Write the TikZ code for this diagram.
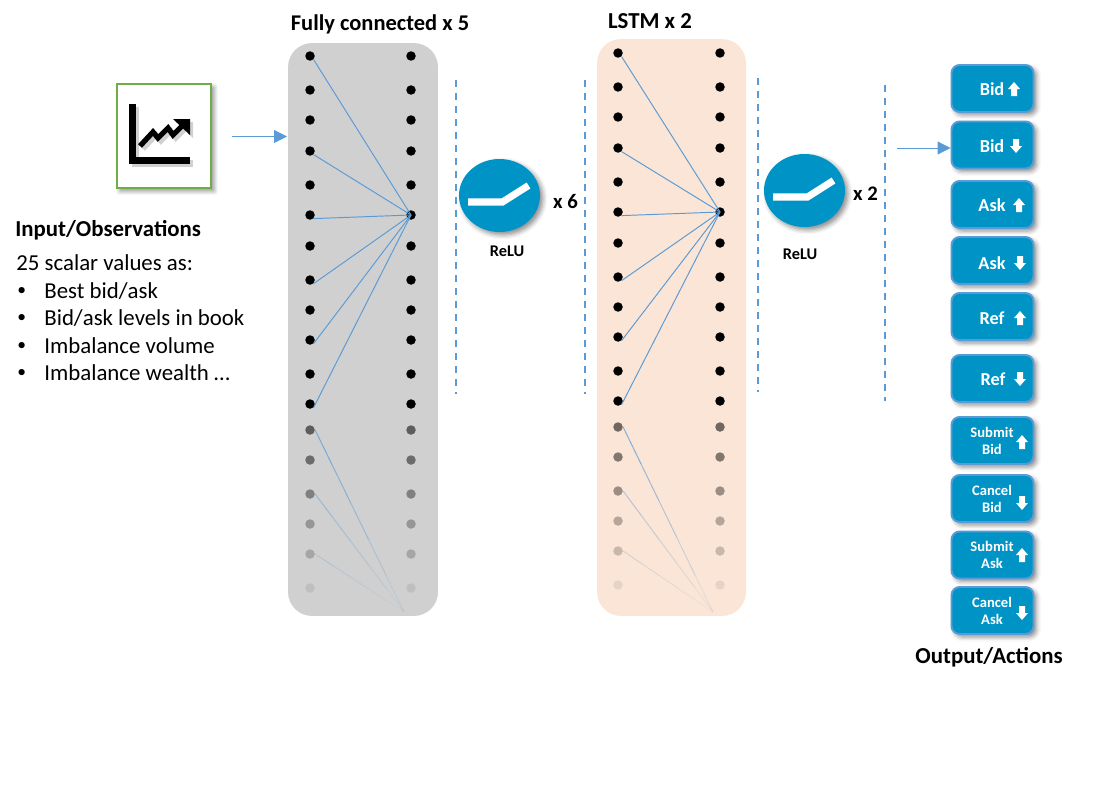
\documentclass[tikz,border=0pt]{standalone}
\usepackage{fontspec}
\setmainfont{Carlito}
\usetikzlibrary{arrows.meta, positioning, calc, shapes.geometric, shadows.blur}
\definecolor{linkblue}{HTML}{5B9BD5}
\definecolor{btnblue}{HTML}{0094C6}
\definecolor{fcgray}{HTML}{D0D0D0}
\definecolor{lstmpeach}{HTML}{FBE5D6}
\definecolor{iconframe}{HTML}{70AD47}
\tikzset{
  softshadow/.style={blur shadow={shadow xshift=0.06cm, shadow yshift=-0.06cm, shadow blur radius=0.09cm, shadow opacity=45}},
  netpanel/.style={rounded corners=0.48cm, minimum width=3cm, inner sep=0pt},
  netdot/.style={circle, fill=black, inner sep=0pt, minimum size=0.19cm},
  netlink/.style={linkblue, line width=0.55pt},
  divider/.style={linkblue, line width=1.1pt, dash pattern=on 4.2pt off 3.2pt},
  flowarrow/.style={linkblue, line width=0.55pt, -{Triangle[length=0.26cm, width=0.26cm]}},
  actionbtn/.style={draw=linkblue, line width=1.1pt, fill=btnblue, rounded corners=0.16cm,
    minimum width=1.64cm, minimum height=0.94cm, inner sep=0pt, softshadow},
  btntext/.style={text=white, font=\fontsize{10.4}{12}\selectfont\bfseries, align=center, inner sep=0pt},
  smalltext/.style={text=white, font=\fontsize{8.3}{9.6}\selectfont\bfseries, align=center, inner sep=0pt},
  uparrow/.pic={\fill[white] (0,-7) -- (6,0) -- (3,0) -- (3,7) -- (-3,7) -- (-3,0) -- (-6,0) -- cycle;},
  downarrow/.pic={\fill[white] (0,7) -- (6,0) -- (3,0) -- (3,-7) -- (-3,-7) -- (-3,0) -- (-6,0) -- cycle;},
  relucircle/.style={ellipse, fill=btnblue, minimum width=1.62cm, minimum height=1.46cm, inner sep=0pt, softshadow},
  title/.style={font=\fontsize{13}{15}\selectfont\bfseries, inner sep=0pt},
  bodytext/.style={font=\fontsize{13}{15}\selectfont, inner sep=0pt, anchor=west},
  tagtext/.style={font=\fontsize{9.3}{11}\selectfont\bfseries, inner sep=0pt}
}
\begin{document}
\begin{tikzpicture}[x=0.02cm, y=-0.02cm]
\useasboundingbox (0,0) rectangle (1097,784);

% panels
\node[netpanel, fill=fcgray, minimum height=11.46cm] (fcpanel) at (363,329.5) {};
\node[netpanel, fill=lstmpeach, minimum height=11.54cm, minimum width=2.98cm] (lstmpanel) at (671.5,327.5) {};
\node[title] (fctitle) at (380,24) {\fontsize{12.8}{15}\selectfont Fully connected x 5};
\node[title] (lstmtitle) at (650,21) {LSTM x 2};

% dots of both layers
\foreach \net/\xl/\xr/\dy in {fc/310/411/0, lstm/618/720/-3} {
  \foreach \i/\y/\op in {1/56/1,2/90/1,3/120/1,4/151/1,5/185/1,6/215/1,7/246/1,8/280/1,9/310/1,
      10/340/1,11/374/1,12/404/1,13/430/.55,14/460/.48,15/494/.38,16/524/.28,17/554/.2,18/588/.08} {
    \node[netdot, opacity=\op] (\net l\i) at (\xl,\y+\dy) {};
    \node[netdot, opacity=\op] (\net r\i) at (\xr,\y+\dy) {};
  }
  \foreach \i in {1,4,6,8,10,12}
    \draw[netlink] (\net l\i.south east) -- (\net r6.center);
}
% links that fade out towards the foot of the panel
\coordinate (fcfade) at (404,612);
\coordinate (lstmfade) at (713,612);
\foreach \net in {fc,lstm}
  \foreach \i/\base in {13/.75,15/.45,17/.25}
    \foreach \a/\b/\op in {0/.2/1,.2/.4/.8,.4/.6/.6,.6/.8/.4,.8/1/.2}
      \draw[netlink, opacity=\base*\op] ($(\net l\i.east)!\a!(\net fade)$) -- ($(\net l\i.east)!\b!(\net fade)$);

% dividers
\coordinate (d1a) at (456,80); \coordinate (d1b) at (456,394);
\coordinate (d2a) at (585,80); \coordinate (d2b) at (585,394);
\coordinate (d3a) at (758,78); \coordinate (d3b) at (758,392);
\coordinate (d4a) at (885,85); \coordinate (d4b) at (885,401);
\foreach \i in {1,2,3,4}
  \draw[divider] (d\i a) -- (d\i b);

% input icon
\node[draw=iconframe, line width=1.1pt, fill=white, minimum width=1.88cm, minimum height=2.08cm,
      inner sep=0pt, softshadow] (inputbox) at (164,136) {};
\draw[line width=3.9pt, black!18, xshift=0.06cm, yshift=-0.06cm] (132.5,104) -- (132.5,160.5) -- (190,160.5);
\draw[line width=3.9pt, black] (132.5,104) -- (132.5,160.5) -- (190,160.5);
\draw[line width=3pt, black!18, xshift=0.06cm, yshift=-0.06cm] (140,146) -- (153,132) -- (158,138) -- (168,128) -- (173,135) -- (185,123);
\fill[black!18, xshift=0.06cm, yshift=-0.06cm] (173,119) -- (190,119) -- (190,135) -- cycle;
\draw[line width=3pt, black] (140,146) -- (153,132) -- (158,138) -- (168,128) -- (173,135) -- (185,123);
\fill[black] (173,119) -- (190,119) -- (190,135) -- cycle;

\coordinate (inputtail) at (232,136.5);
\coordinate (inputhead) at (287,136.5);
\draw[flowarrow] (inputtail) -- (inputhead);

% input text
\node[title, anchor=west] (inputtitle) at (15,230) {Input/Observations};
\node[bodytext] (inputbody) at (16,263) {25 scalar values as:};
\foreach \i/\y/\txt in {1/291/Best bid\slash ask, 2/318/Bid\slash ask levels in book, 3/346/Imbalance volume, 4/373/Imbalance wealth \dots} {
  \node[bodytext, font=\fontsize{10}{12}\selectfont] (bullet\i) at (17,\y) {•};
  \node[bodytext] (item\i) at (44,\y) {\txt};
}

% activations
\foreach \n/\cx/\cy/\tx/\ty/\lx/\ly/\rep in {1/499.5/195.5/565.5/201/507/251/x 6, 2/804.5/190.5/865.5/194/800/254/x 2} {
  \node[relucircle] (relu\n) at (\cx,\cy) {};
  \draw[white, line width=4pt] ($(relu\n)+(-31.5,6.5)$) -- ($(relu\n)+(3,6.5)$) -- ($(relu\n)+(29,-10)$);
  \node[title, font=\fontsize{11.8}{14}\selectfont\bfseries] (rep\n) at (\tx,\ty) {\rep};
  \node[tagtext] (relulabel\n) at (\lx,\ly) {ReLU};
}

% output buttons
\foreach \nm/\yc/\txt/\tx/\ax/\dir/\ay in {
    bidup/88.5/Bid/992/1014/uparrow/89,
    biddown/145/Bid/992/1016/downarrow/146,
    askup/204.5/Ask/992/1019/uparrow/205,
    askdown/260.5/Ask/992/1020/downarrow/263,
    refup/316.5/Ref/992/1020/uparrow/318,
    refdown/378.5/Ref/993/1020/downarrow/379} {
  \node[actionbtn] (\nm) at (992.5,\yc) {};
  \node[btntext] (\nm text) at (\tx,\ay) {\txt};
  \pic at (\ax,\ay) {\dir};
}
\foreach \nm/\yc/\txt/\dir/\ay in {
    submitbid/440.5/{Submit\\Bid}/uparrow/442,
    cancelbid/498.5/{Cancel\\Bid}/downarrow/503,
    submitask/555/{Submit\\Ask}/uparrow/555,
    cancelask/610.5/{Cancel\\Ask}/downarrow/613} {
  \node[actionbtn] (\nm) at (992.5,\yc) {};
  \node[smalltext] (\nm text) at (992,\yc) {\txt};
  \pic at (1022,\ay) {\dir};
}
\coordinate (outputtail) at (897,148);
\draw[flowarrow] (outputtail) -- (biddown.west |- outputtail);
\node[title] (outputtitle) at (989,657) {Output/Actions};
\end{tikzpicture}
\end{document}
